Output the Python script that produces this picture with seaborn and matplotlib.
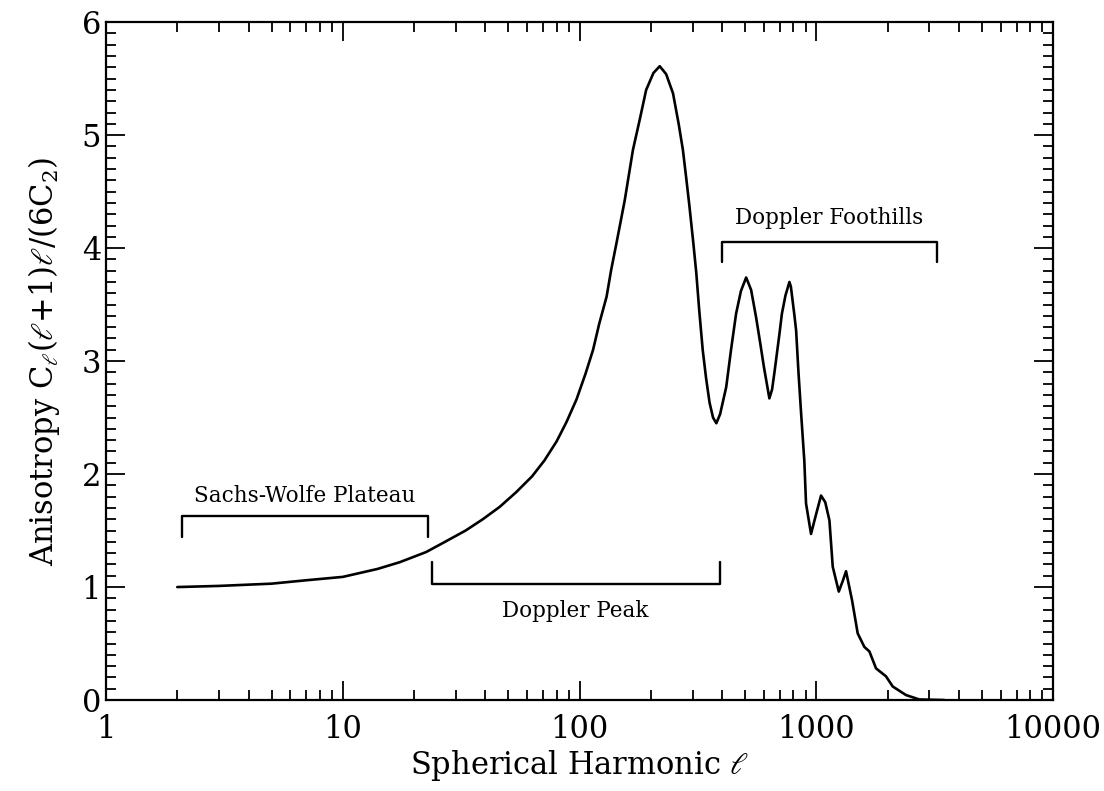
import matplotlib
matplotlib.use('Agg')
import matplotlib.pyplot as plt
import numpy as np
import pandas as pd
import seaborn as sns
from matplotlib.ticker import FixedLocator, MultipleLocator, LogLocator, NullFormatter

# angular power spectrum
ell = [2, 3, 5, 7, 10, 14, 17.4, 22.5, 27, 33, 39, 46, 54, 63, 71, 80, 88,
       97, 106, 114, 121, 130, 136, 143, 155, 168, 180, 191, 205, 218, 232,
       248, 262, 273, 282, 291, 302, 311, 320, 331, 342, 354, 366, 378, 392,
       416, 436, 458, 480, 505, 530, 556, 580, 600, 633, 650, 665, 698, 715,
       740, 769, 780, 795, 808, 821, 840, 861, 889, 904, 949, 990, 1046,
       1090, 1135, 1172, 1243, 1290, 1334, 1415, 1494, 1594, 1674, 1786,
       1967, 2100, 2390, 2720, 3470]
power = [1.00, 1.01, 1.03, 1.06, 1.09, 1.16, 1.22, 1.31, 1.40, 1.50, 1.60,
         1.71, 1.84, 1.98, 2.12, 2.29, 2.46, 2.66, 2.89, 3.10, 3.33, 3.57,
         3.81, 4.04, 4.42, 4.87, 5.15, 5.40, 5.55, 5.61, 5.54, 5.37, 5.10,
         4.87, 4.62, 4.37, 4.05, 3.78, 3.45, 3.10, 2.85, 2.63, 2.50, 2.45,
         2.53, 2.77, 3.10, 3.42, 3.62, 3.74, 3.63, 3.39, 3.15, 2.95, 2.67,
         2.75, 2.90, 3.24, 3.42, 3.58, 3.70, 3.66, 3.52, 3.40, 3.27, 2.90,
         2.55, 2.12, 1.74, 1.47, 1.62, 1.81, 1.75, 1.59, 1.18, 0.96, 1.05,
         1.14, 0.88, 0.59, 0.47, 0.43, 0.28, 0.21, 0.12, 0.044, 0.005, 0.0]

# annotated regions: label, l_start, l_end, bracket level, arm end, text y
regions = ["Sachs-Wolfe Plateau", "Doppler Peak", "Doppler Foothills"]
reg_start = [2.1, 23.7, 398]
reg_end = [22.8, 390, 3240]
reg_level = [1.63, 1.03, 4.05]
reg_arm = [1.44, 1.22, 3.88]
reg_text_y = [1.81, 0.79, 4.27]

xtick_vals = [1, 10, 100, 1000, 10000]
xtick_labels = ["1", "10", "100", "1000", "10000"]

sns.set_style("ticks")
plt.rcParams['font.family'] = ['DejaVu Serif']
plt.rcParams['mathtext.fontset'] = 'dejavuserif'
plt.rcParams['text.color'] = 'black'
plt.rcParams['axes.labelcolor'] = 'black'

df = pd.DataFrame({"ell": ell, "power": power})

fig = plt.figure(figsize=(11.04, 7.91), dpi=100)
ax = fig.add_axes([0.096, 0.115, 0.858, 0.857])

sns.lineplot(data=df, x="ell", y="power", color="black", linewidth=1.9,
             estimator=None, ax=ax)

for lab, a, b, lev, arm, ty in zip(regions, reg_start, reg_end, reg_level,
                                   reg_arm, reg_text_y):
    ax.plot([a, a, b, b], [arm, lev, lev, arm], color="black", lw=1.7)
    ax.text(np.sqrt(a * b), ty, lab, ha="center", va="center", fontsize=15.5)

ax.set_xscale("log")
ax.set_xlim(1, 10000)
ax.set_ylim(0, 6)
ax.xaxis.set_major_locator(FixedLocator(xtick_vals))
ax.set_xticklabels(xtick_labels)
ax.xaxis.set_minor_locator(LogLocator(base=10, subs=np.arange(2, 10)))
ax.xaxis.set_minor_formatter(NullFormatter())
ax.yaxis.set_major_locator(MultipleLocator(1))
ax.yaxis.set_minor_locator(MultipleLocator(0.1))

ax.tick_params(which="both", direction="in", top=True, right=True,
               color="black", width=1.3, labelsize=22, labelcolor="black")
ax.tick_params(which="major", length=14)
ax.tick_params(which="minor", length=7)
ax.tick_params(axis="x", pad=10)
for s in ax.spines.values():
    s.set_linewidth(1.6)
    s.set_color("black")

ax.set_xlabel(r"Spherical Harmonic $\ell$", fontsize=22, labelpad=2)
ax.set_ylabel(r"Anisotropy C$_\ell$($\ell$+1)$\ell$/(6C$_2$)", fontsize=22,
              labelpad=14)

fig.savefig("out.png", dpi=100)
